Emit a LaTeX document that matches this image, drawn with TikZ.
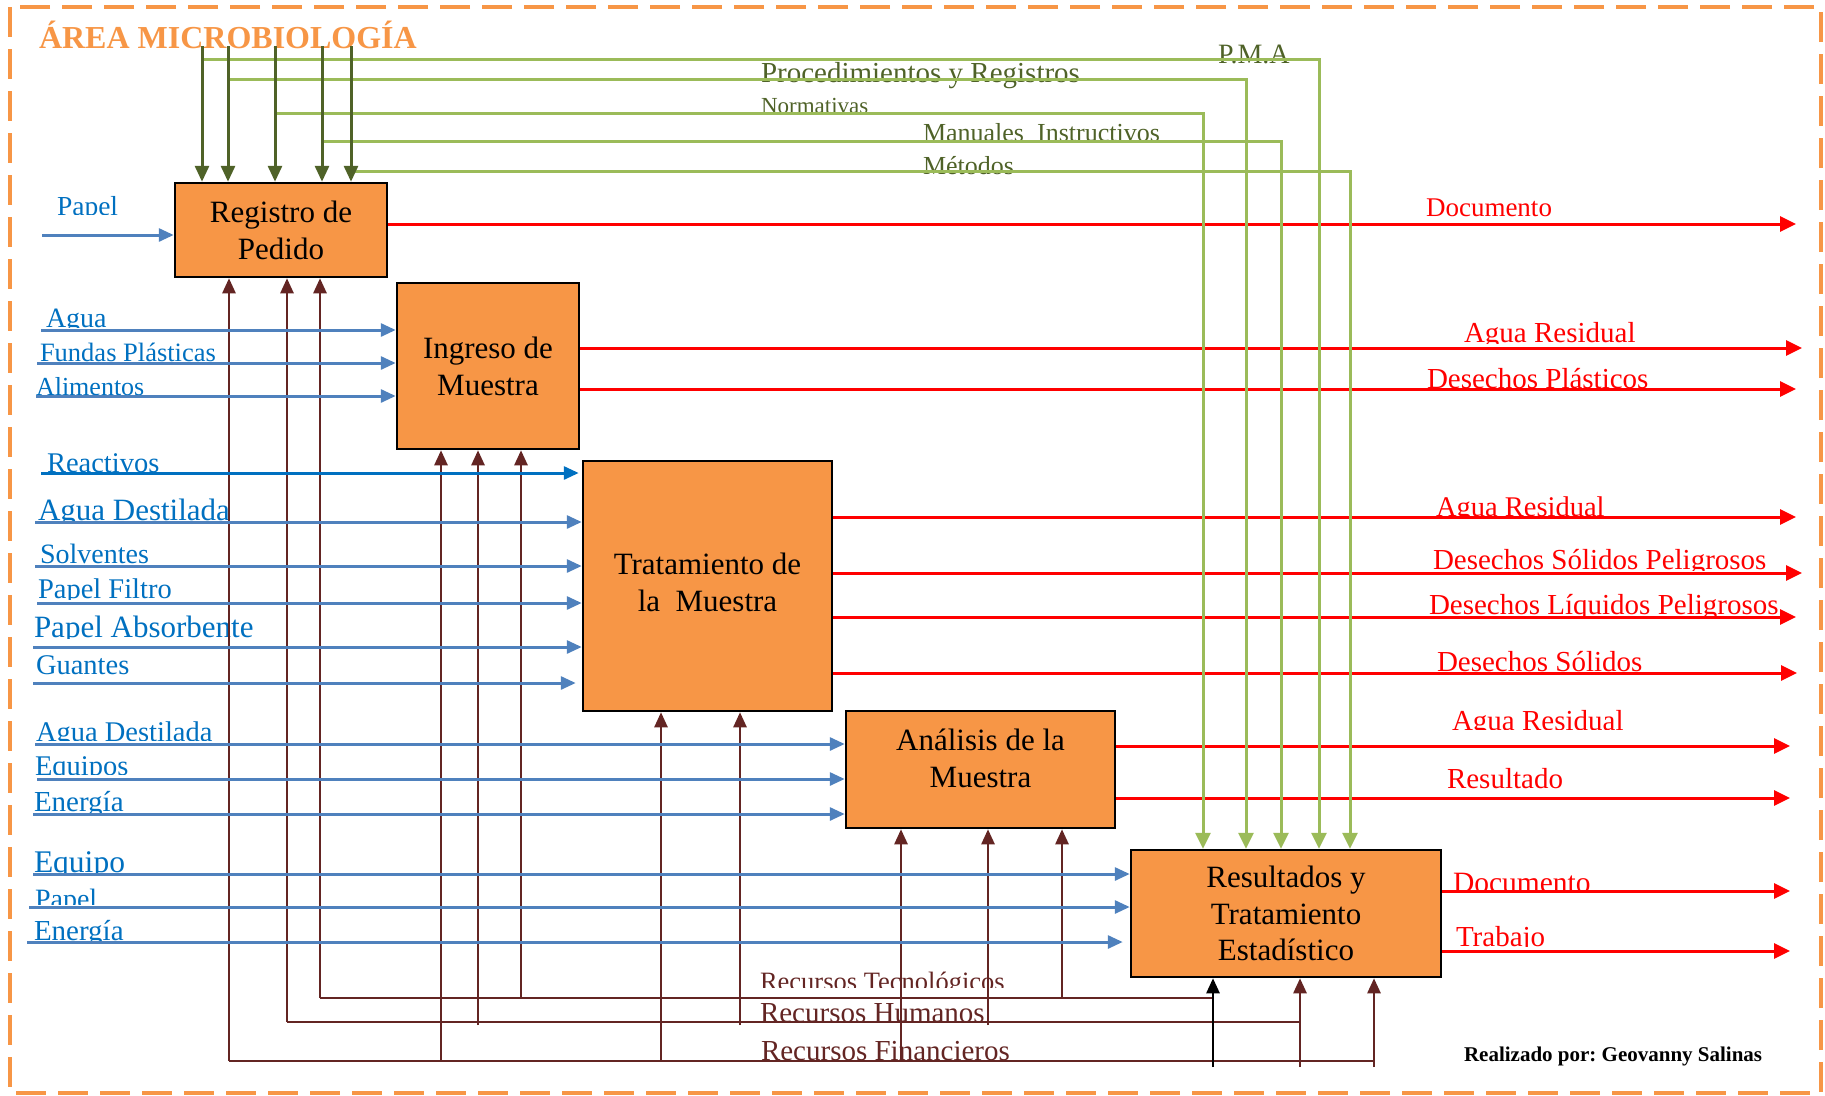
\documentclass[tikz,border=0pt]{standalone}
\usepackage{fontspec}
\setmainfont{Liberation Serif}
\usetikzlibrary{arrows.meta}
\definecolor{boxorange}{HTML}{F79646}
\definecolor{dkgreen}{HTML}{4F6228}
\definecolor{ltgreen}{HTML}{9BBB59}
\definecolor{blueln}{HTML}{4F81BD}
\definecolor{bluetxt}{HTML}{0070C0}
\definecolor{outred}{HTML}{FF0000}
\definecolor{mechbrown}{HTML}{632523}
\frenchspacing
\newcommand\fs[1]{\fontsize{#1}{#1}\selectfont}
% label clipped below a given line (#5), placed by its baseline
\newcommand\putlabel[6]{\begin{scope}\clip (0,0) rectangle (1825,#5);\node[#1] (#2) at (#3,#4) {#6};\end{scope}}
\tikzset{
  procbox/.style={draw=black, line width=2.5pt, fill=boxorange, align=center,
    font=\fontsize{31}{37}\selectfont, inner sep=0pt},
  lbl/.style={anchor=base west, inner sep=0pt, outer sep=0pt},
  bl/.style={lbl, text=bluetxt},
  gl/.style={lbl, text=dkgreen},
  rl/.style={lbl, text=outred},
  ml/.style={lbl, text=mechbrown},
  inb/.style={draw=blueln, line width=3pt, -{Triangle[length=15pt,width=13pt]}},
  outr/.style={draw=outred, line width=3pt, -{Triangle[length=16pt,width=15pt]}},
  mech/.style={draw=mechbrown, line width=2.5pt},
  mecha/.style={mech, -{Triangle[length=15pt,width=13pt]}},
  ctl/.style={draw=dkgreen, line width=3pt, -{Triangle[length=16pt,width=14pt]}},
  ctlg/.style={draw=ltgreen, line width=3pt, -{Triangle[length=16pt,width=15pt]}},
}
\begin{document}
\begin{tikzpicture}[x=1pt,y=-1pt]
\useasboundingbox (0,0) rectangle (1825,1095);
% frame of the area
\draw[boxorange, line width=4pt, dash pattern=on 30pt off 12pt] (10,7) rectangle (1821,1093);
\node[lbl, text=boxorange, font=\bfseries\fs{32}] (title) at (39,48) {ÁREA MICROBIOLOGÍA};

% process boxes
\node[procbox, minimum width=212pt, minimum height=94pt] (reg) at (281,230) {Registro de\\Pedido};
\node[procbox, minimum width=182pt, minimum height=166pt] (ing) at (488,366) {Ingreso de\\Muestra};
\node[procbox, minimum width=249pt, minimum height=250pt, text depth=8pt] (tra) at (707.5,586) {Tratamiento de\\la\ \ Muestra};
\node[procbox, minimum width=269pt, minimum height=117pt, text depth=22pt] (ana) at (980.5,769.5) {Análisis de la\\Muestra};
\node[procbox, minimum width=310pt, minimum height=127pt, font=\fontsize{31}{36.5}\selectfont] (res) at (1286,913.5) {Resultados y\\Tratamiento\\Estadístico};

% control labels
\putlabel{gl,font=\fs{28}}{lpma}{1218}{63}{1095}{P.M.A}
\putlabel{gl,font=\fs{29}}{lproc}{761}{82}{1095}{Procedimientos y Registros}
\putlabel{gl,font=\fs{23}}{lnorm}{761}{113}{113.5}{Normativas}
\putlabel{gl,font=\fs{26}}{lman}{923}{141}{140}{Manuales\ \ Instructivos}
\putlabel{gl,font=\fs{26}}{lmet}{923}{174}{1095}{Métodos}

% input labels
\putlabel{bl,font=\fs{27.5}}{lpapel}{57}{215}{214.5}{Papel}
\putlabel{bl,font=\fs{28}}{lagua}{46}{327}{327.5}{Agua}
\putlabel{bl,font=\fs{26.5}}{lfundas}{40}{361}{1095}{Fundas Plásticas}
\putlabel{bl,font=\fs{26}}{lalim}{36}{395}{1095}{Alimentos}
\putlabel{bl,font=\fs{28.5}}{lreact}{47}{472}{1095}{Reactivos}
\putlabel{bl,font=\fs{31}}{ladest}{38}{520}{521}{Agua Destilada}
\putlabel{bl,font=\fs{28}}{lsolv}{40}{563}{1095}{Solventes}
\putlabel{bl,font=\fs{28.5}}{lpfil}{38}{598.5}{599}{Papel Filtro}
\putlabel{bl,font=\fs{31}}{lpabs}{34}{637.5}{638}{Papel Absorbente}
\putlabel{bl,font=\fs{28.5}}{lguan}{36}{674}{1095}{Guantes}
\putlabel{bl,font=\fs{28.5}}{ladestb}{36}{741.5}{740}{Agua Destilada}
\putlabel{bl,font=\fs{28.5}}{lequipos}{35}{775.5}{774}{Equipos}
\putlabel{bl,font=\fs{29}}{lenerg}{34}{811.5}{812}{Energía}
\putlabel{bl,font=\fs{31.5}}{lequipo}{34}{872.5}{872}{Equipo}
\putlabel{bl,font=\fs{28}}{lpapelb}{35}{908}{904}{Papel}
\putlabel{bl,font=\fs{29}}{lenergb}{34}{940.5}{940}{Energía}

% output labels
\putlabel{rl,font=\fs{27}}{ldoc}{1426}{216}{1095}{Documento}
\putlabel{rl,font=\fs{29}}{lar}{1464}{342}{343}{Agua Residual}
\putlabel{rl,font=\fs{29}}{ldp}{1427}{388}{1095}{Desechos Plásticos}
\putlabel{rl,font=\fs{28.5}}{larb}{1436}{516}{515}{Agua Residual}
\putlabel{rl,font=\fs{29}}{ldsp}{1433}{569}{570}{Desechos Sólidos Peligrosos}
\putlabel{rl,font=\fs{29}}{ldlp}{1429}{614}{615}{Desechos Líquidos Peligrosos}
\putlabel{rl,font=\fs{29}}{lds}{1437}{671}{1095}{Desechos Sólidos}
\putlabel{rl,font=\fs{29}}{larc}{1452}{730}{729}{Agua Residual}
\putlabel{rl,font=\fs{29}}{lresu}{1447}{788}{1095}{Resultado}
\putlabel{rl,font=\fs{29.5}}{ldocb}{1453}{892.5}{891}{Documento}
\putlabel{rl,font=\fs{29}}{ltrab}{1456}{946}{946}{Trabajo}

% resource labels
\putlabel{ml,font=\fs{26.5}}{ltec}{760}{990}{987}{Recursos Tecnológicos}
\putlabel{ml,font=\fs{29}}{lhum}{760}{1022}{1095}{Recursos Humanos}
\putlabel{ml,font=\fs{29}}{lfin}{761}{1060}{1095}{Recursos Financieros}

\node[lbl, font=\bfseries\fs{21}] (author) at (1464,1061) {Realizado por: Geovanny Salinas};

% outputs
\coordinate (o1) at (1796,224);
\coordinate (o2) at (1802,348);
\coordinate (o3) at (1796,389);
\coordinate (o4) at (1796,517);
\coordinate (o5) at (1802,573);
\coordinate (o6) at (1796,617);
\coordinate (o7) at (1797,673);
\coordinate (o8) at (1790,746);
\coordinate (o9) at (1790,798);
\coordinate (o10) at (1790,891);
\coordinate (o11) at (1790,951);
\draw[outr] (o1 -| reg.east) -- (o1);
\draw[outr] (o2 -| ing.east) -- (o2);
\draw[outr] (o3 -| ing.east) -- (o3);
\draw[outr] (o4 -| tra.east) -- (o4);
\draw[outr] (o5 -| tra.east) -- (o5);
\draw[outr] (o6 -| tra.east) -- (o6);
\draw[outr] (o7 -| tra.east) -- (o7);
\draw[outr] (o8 -| ana.east) -- (o8);
\draw[outr] (o9 -| ana.east) -- (o9);
\draw[outr] (o10 -| res.east) -- (o10);
\draw[outr] (o11 -| res.east) -- (o11);

% controls
\coordinate (g1) at (202,59);  \coordinate (G1) at (1319,59);
\coordinate (g2) at (228,79);  \coordinate (G2) at (1246,79);
\coordinate (g3) at (275,113); \coordinate (G3) at (1203,113);
\coordinate (g4) at (322,141); \coordinate (G4) at (1281,141);
\coordinate (g5) at (351,171); \coordinate (G5) at (1350,171);
\draw[ctlg] (g1) -- (G1) -- (G1 |- res.north);
\draw[ctlg] (g2) -- (G2) -- (G2 |- res.north);
\draw[ctlg] (g3) -- (G3) -- (G3 |- res.north);
\draw[ctlg] (g4) -- (G4) -- (G4 |- res.north);
\draw[ctlg] (g5) -- (G5) -- (G5 |- res.north);
\coordinate (k1) at (202,46);
\coordinate (k2) at (228,46);
\coordinate (k3) at (275,46);
\coordinate (k4) at (322,46);
\coordinate (k5) at (351,46);
\foreach \k in {k1,k2,k3,k4,k5} \draw[ctl] (\k) -- (\k |- reg.north);

% resources
\coordinate (tecL) at (320,998);  \coordinate (tecR) at (1213,998);
\coordinate (humL) at (287,1022); \coordinate (humR) at (1300,1022);
\coordinate (finL) at (229,1061); \coordinate (finR) at (1374,1061);
\draw[mech] (tecL) -- (tecR);
\draw[mech] (humL) -- (humR);
\draw[mech] (finL) -- (finR);
\draw[mecha] (finL) -- (finL |- reg.south);
\draw[mecha] (humL) -- (humL |- reg.south);
\draw[mecha] (tecL) -- (tecL |- reg.south);
\coordinate (f2) at (441,1061); \coordinate (h2) at (478,1025); \coordinate (t2) at (521,998);
\coordinate (f3) at (661,1061); \coordinate (h3) at (740,1025);
\coordinate (f4) at (901,1061); \coordinate (h4) at (988,1025); \coordinate (t4) at (1062,998);
\coordinate (r5a) at (1213,1067); \coordinate (r5b) at (1300,1067); \coordinate (r5c) at (1374,1067);
\foreach \m in {f2,h2,t2} \draw[mecha] (\m) -- (\m |- ing.south);
\foreach \m in {f3,h3} \draw[mecha] (\m) -- (\m |- tra.south);
\foreach \m in {f4,h4,t4} \draw[mecha] (\m) -- (\m |- ana.south);
\draw[mecha, draw=black] (r5a) -- (r5a |- res.south);
\draw[mecha] (r5b) -- (r5b |- res.south);
\draw[mecha] (r5c) -- (r5c |- res.south);

% inputs
\coordinate (i1) at (42,235);
\coordinate (i2) at (41,330);
\coordinate (i3) at (37,363);
\coordinate (i4) at (36,396);
\coordinate (i5) at (41,473);
\coordinate (i6) at (35,522);
\coordinate (i7) at (35,566);
\coordinate (i8) at (37,603);
\coordinate (i9) at (33,647);
\coordinate (i10) at (33,683);
\coordinate (i11) at (35,744);
\coordinate (i12) at (37,779);
\coordinate (i13) at (33,814);
\coordinate (i14) at (33,874);
\coordinate (i15) at (29,907);
\coordinate (i16) at (27,942);
\draw[inb] (i1) -- (i1 -| reg.west);
\foreach \i in {i2,i3,i4} \draw[inb] (\i) -- (\i -| ing.west);
\draw[inb, draw=bluetxt, shorten >=3pt] (i5) -- (i5 -| tra.west);
\foreach \i in {i6,i7,i8,i9} \draw[inb] (\i) -- (\i -| tra.west);
\draw[inb, shorten >=6pt] (i10) -- (i10 -| tra.west);
\foreach \i in {i11,i12,i13} \draw[inb] (\i) -- (\i -| ana.west);
\draw[inb] (i14) -- (i14 -| res.west);
\draw[inb] (i15) -- (i15 -| res.west);
\draw[inb, shorten >=7pt] (i16) -- (i16 -| res.west);
\end{tikzpicture}
\end{document}
